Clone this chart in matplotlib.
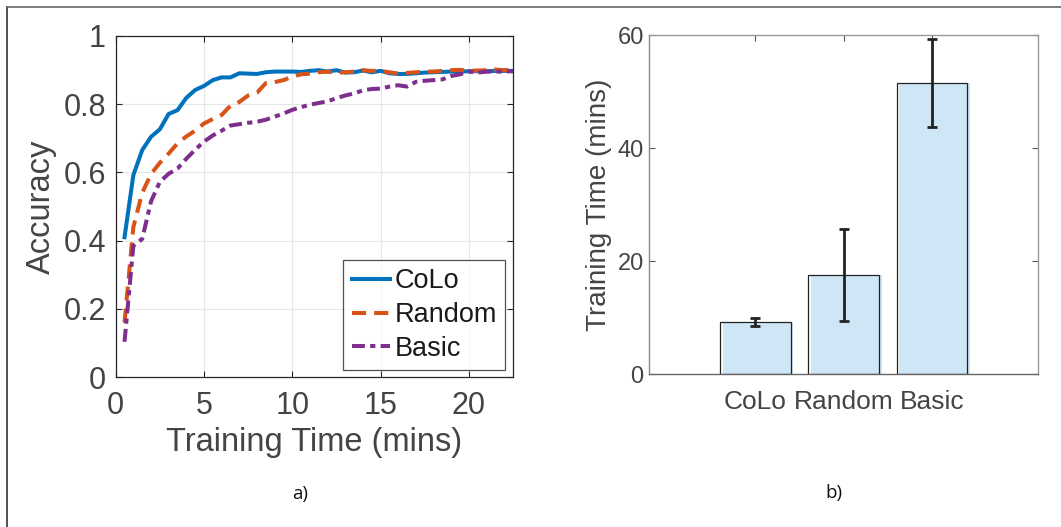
import matplotlib
matplotlib.use("Agg")
import matplotlib.pyplot as plt
from matplotlib.lines import Line2D
import numpy as np

plt.rcParams['font.family'] = ['Liberation Sans', 'DejaVu Sans']

# ---------------- data ----------------
time_min = [0.5, 1.0, 1.5, 2.0, 2.5, 3.0, 3.5, 4.0, 4.5, 5.0, 5.5, 6.0, 6.5, 7.0, 7.5,
            8.0, 8.5, 9.0, 9.5, 10.0, 10.5, 11.0, 11.5, 12.0, 12.5, 13.0, 13.5, 14.0,
            14.5, 15.0, 15.5, 16.0, 16.5, 17.0, 17.5, 18.0, 18.5, 19.0, 19.5, 20.0,
            20.5, 21.0, 21.5, 22.0, 22.5]
acc_colo = [0.41, 0.592, 0.665, 0.704, 0.726, 0.771, 0.782, 0.818, 0.841, 0.853, 0.870,
            0.878, 0.878, 0.890, 0.889, 0.888, 0.893, 0.895, 0.895, 0.895, 0.894, 0.897,
            0.899, 0.895, 0.899, 0.892, 0.893, 0.898, 0.893, 0.897, 0.890, 0.888, 0.888,
            0.890, 0.892, 0.893, 0.894, 0.895, 0.895, 0.896, 0.896, 0.896, 0.897, 0.897,
            0.897]
acc_random = [0.16, 0.44, 0.54, 0.595, 0.628, 0.655, 0.685, 0.705, 0.722, 0.743, 0.756,
              0.768, 0.795, 0.806, 0.825, 0.833, 0.861, 0.864, 0.870, 0.880, 0.887, 0.889,
              0.893, 0.895, 0.891, 0.893, 0.895, 0.899, 0.897, 0.897, 0.893, 0.889, 0.891,
              0.893, 0.895, 0.895, 0.897, 0.899, 0.900, 0.897, 0.898, 0.899, 0.901, 0.899,
              0.900]
acc_basic = [0.104, 0.385, 0.405, 0.515, 0.572, 0.596, 0.611, 0.640, 0.666, 0.690, 0.708,
             0.722, 0.737, 0.741, 0.745, 0.748, 0.754, 0.763, 0.772, 0.783, 0.791, 0.798,
             0.803, 0.808, 0.817, 0.825, 0.831, 0.840, 0.844, 0.845, 0.851, 0.855, 0.851,
             0.865, 0.868, 0.870, 0.872, 0.882, 0.887, 0.895, 0.892, 0.895, 0.895, 0.895,
             0.896]

methods = ['CoLo', 'Random', 'Basic']
train_time = [9.3, 17.6, 51.6]
err_low = [8.6, 9.4, 43.8]
err_high = [10.0, 25.7, 59.3]

# ---------------- figure ----------------
W, H = 1061, 527
fig = plt.figure(figsize=(W / 100, H / 100), dpi=100)
fig.patch.set_facecolor('white')

txt = '#444444'

def ax_rect(x0, y0, x1, y1):
    return [x0 / W, 1 - y1 / H, (x1 - x0) / W, (y1 - y0) / H]

# outer frame (left and top edges)
fig.add_artist(Line2D([7 / W, 7 / W], [0, 1 - 7 / H], transform=fig.transFigure,
                      color='#333333', lw=1.2))
fig.add_artist(Line2D([7 / W, 1], [1 - 7 / H, 1 - 7 / H], transform=fig.transFigure,
                      color='#666666', lw=1.2))

# ---------- left: accuracy curves ----------
ax1 = fig.add_axes(ax_rect(115.7, 35.7, 513, 377.3))
ax1.plot(time_min, acc_colo, color='#0072BD', lw=2.9, label='CoLo')
ax1.plot(time_min, acc_random, color='#D95319', lw=2.9, dashes=(3.5, 2.0), label='Random')
ax1.plot(time_min, acc_basic, color='#7E2F8E', lw=2.9, dashes=(3.2, 1.3, 1.3, 1.3), label='Basic')
ax1.set_xlim(0, 22.5)
ax1.set_ylim(0, 1)
ax1.set_xticks([0, 5, 10, 15, 20])
ax1.set_yticks([0, 0.2, 0.4, 0.6, 0.8, 1])
ax1.set_yticklabels(['0', '0.2', '0.4', '0.6', '0.8', '1'])
ax1.grid(True, color='#e6e6e6', lw=0.8)
ax1.set_axisbelow(True)
ax1.tick_params(direction='in', length=4, width=0.8, colors='#262626',
                labelsize=22, labelcolor=txt, top=True, right=True)
ax1.tick_params(axis='x', pad=10)
ax1.tick_params(axis='y', pad=7)
for s in ax1.spines.values():
    s.set_color('#262626')
    s.set_linewidth(0.9)
ax1.set_xlabel('Training Time (mins)', fontsize=23.5, color=txt, labelpad=4)
ax1.set_ylabel('Accuracy', fontsize=23.5, color=txt, labelpad=5)
leg = ax1.legend(loc='lower right', fontsize=19.5, frameon=True, fancybox=False,
                 edgecolor='#262626', handlelength=1.4, handletextpad=0.2,
                 borderpad=0.3, labelspacing=0.28, borderaxespad=0.28)
leg.get_frame().set_linewidth(0.9)
for t in leg.get_texts():
    t.set_color('#1a1a1a')

# ---------- right: bar chart ----------
ax2 = fig.add_axes(ax_rect(649.3, 35, 1038, 374.3))
xpos = np.arange(1, len(methods) + 1)
ax2.bar(xpos + 0.03, train_time, width=0.8, color='#cfe6f7', edgecolor='none', zorder=1)
ax2.bar(xpos, train_time, width=0.8, facecolor='none', edgecolor='#222222', lw=0.9, zorder=2)
yerr = [np.array(train_time) - np.array(err_low), np.array(err_high) - np.array(train_time)]
ax2.errorbar(xpos, train_time, yerr=yerr, fmt='none', ecolor='#222222', elinewidth=2,
             capsize=3.8, capthick=2, zorder=3)
ax2.set_xlim(-0.2, 4.2)
ax2.set_ylim(0, 60)
ax2.set_yticks([0, 20, 40, 60])
ax2.set_xticks(xpos)
ax2.set_xticklabels(methods)
ax2.tick_params(axis='y', direction='in', length=4, width=0.8, colors='#555555',
                labelsize=17, labelcolor=txt, right=True, pad=4)
ax2.tick_params(axis='x', direction='in', length=4, width=0.8, colors='#555555',
                labelsize=19, labelcolor=txt, top=True, bottom=False, pad=11)
for s in ax2.spines.values():
    s.set_color('#999999')
    s.set_linewidth(1.0)
ax2.spines['bottom'].set_color('#666666')
ax2.spines['left'].set_color('#888888')
ax2.set_ylabel('Training Time (mins)', fontsize=20, color=txt, labelpad=4)

# panel labels
fig.text(300 / W, 1 - 494 / H, 'a)', fontsize=13.5, family=['Open Sans', 'DejaVu Sans'],
         ha='center', va='center', color='#111111')
fig.text(834 / W, 1 - 493 / H, 'b)', fontsize=13.5, family=['Open Sans', 'DejaVu Sans'],
         ha='center', va='center', color='#111111')

fig.savefig('out.png', dpi=100, facecolor='white')
